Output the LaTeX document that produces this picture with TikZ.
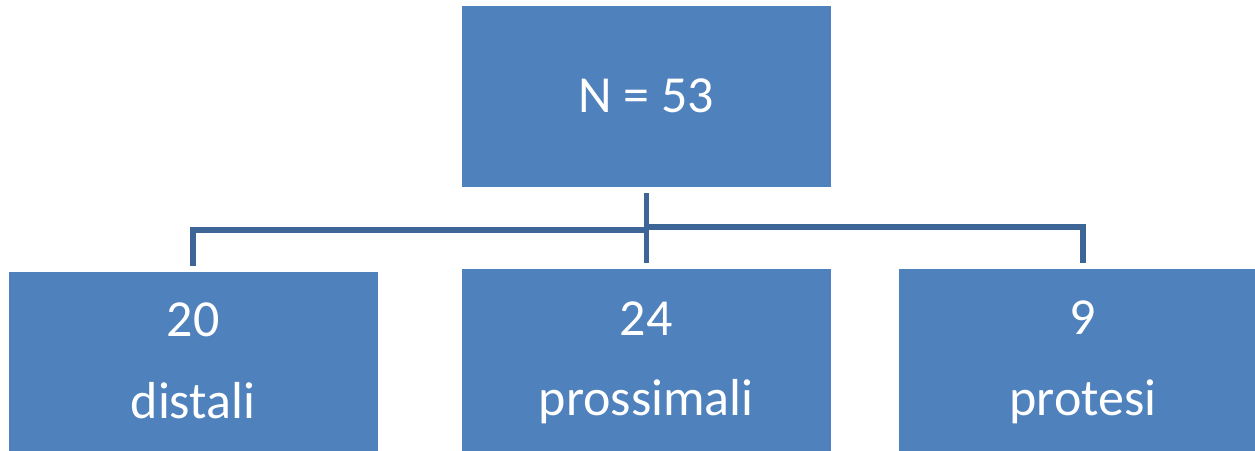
\documentclass[tikz,border=0pt]{standalone}
\usepackage{fontspec}
\setmainfont{Carlito}
\definecolor{boxblue}{HTML}{4F81BD}
\definecolor{linkblue}{HTML}{3E6597}
\begin{document}
\begin{tikzpicture}[x=1pt,y=-1pt,
  box/.style={rectangle, fill=boxblue, draw=none, minimum width=369pt, minimum height=181.5pt, inner sep=0pt},
  lbl/.style={text=white, inner sep=0pt, anchor=base, font=\fontsize{52}{62}\selectfont},
  link/.style={draw=linkblue, line width=5.3pt}]
\clip (0,0) rectangle (1255,450);
\fill[white] (0,0) rectangle (1255,450);
% boxes
\node[box] (top) at (646.2,96.5) {};
\node[box] (left) at (193,363) {};
\node[box] (mid) at (646.2,359.75) {};
\node[box] (right) at (1083,359.75) {};
% labels
\node[lbl] (ttop) at (646.2,112) {N = 53};
\node[lbl] (tl1) at (193,336) {20};
\node[lbl] (tl2) at (193,418) {distali};
\node[lbl] (tm1) at (646.2,335) {24};
\node[lbl] (tm2) at (646.2,415) {prossimali};
\node[lbl] (tr1) at (1083,334) {9};
\node[lbl] (tr2) at (1083,415) {protesi};
% connectors
\coordinate (jl) at (646.2,230);
\coordinate (jr) at (646.2,227);
\draw[link] ([yshift=-6pt]top.south) -- ([yshift=6pt]mid.north);
\draw[link] ([yshift=6pt]left.north) |- (jl);
\draw[link] ([yshift=6pt]right.north) |- (jr);
\end{tikzpicture}
\end{document}
